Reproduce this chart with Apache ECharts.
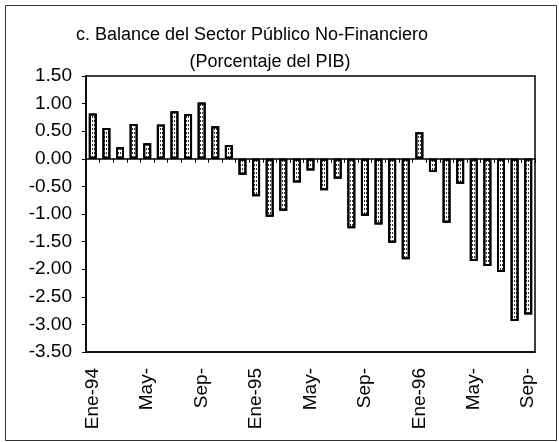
<!DOCTYPE html>
<html>
<head>
<meta charset="utf-8">
<script src="https://cdn.jsdelivr.net/npm/echarts@6/dist/echarts.min.js"></script>
<style>
html, body { margin: 0; padding: 0; background: #fff; }
#chart { width: 559px; height: 442px; }
</style>
</head>
<body>
<div id="chart"></div>
<script>
var months = ['Ene-94','Feb-94','Mar-94','Abr-94','May-94','Jun-94','Jul-94','Ago-94','Sep-94','Oct-94','Nov-94','Dic-94',
              'Ene-95','Feb-95','Mar-95','Abr-95','May-95','Jun-95','Jul-95','Ago-95','Sep-95','Oct-95','Nov-95','Dic-95',
              'Ene-96','Feb-96','Mar-96','Abr-96','May-96','Jun-96','Jul-96','Ago-96','Sep-96'];
var balance = [0.82, 0.56, 0.21, 0.63, 0.28, 0.62, 0.86, 0.81, 1.02, 0.59, 0.25, -0.29,
               -0.68, -1.05, -0.94, -0.43, -0.21, -0.57, -0.36, -1.26, -1.03, -1.19, -1.52, -1.82,
               0.48, -0.24, -1.16, -0.45, -1.85, -1.94, -2.05, -2.94, -2.82];
var titleText = 'c. Balance del Sector Público No-Financiero';
var subText = '(Porcentaje del PIB)';

var chartDom = document.getElementById('chart');
var myChart = echarts.init(chartDom);
var font = '"Liberation Sans", Arial, sans-serif';

function monthLabel(v) {
    // Ene shows the year, other months only "Mmm-"
    if (v.indexOf('Ene') === 0) return v;
    return v.split('-')[0] + '-';
}

var option = {
    animation: false,
    backgroundColor: '#fff',
    aria: { enabled: true, decal: { show: true } },
    title: [
        {
            text: titleText, left: 247, top: 21, textAlign: 'center',
            textStyle: { fontFamily: font, fontSize: 18, fontWeight: 'normal', color: '#000' }
        },
        {
            text: subText, left: 265, top: 48, textAlign: 'center',
            textStyle: { fontFamily: font, fontSize: 18, fontWeight: 'normal', color: '#000' }
        }
    ],
    graphic: [
        {
            type: 'rect', left: 3, top: 3,
            shape: { width: 551, height: 435 },
            style: { fill: 'none', stroke: '#333', lineWidth: 1 }
        }
    ],
    grid: {
        left: 86, right: 24, top: 76, bottom: 90,
        show: true, borderColor: '#000', borderWidth: 1.5, backgroundColor: 'transparent'
    },
    xAxis: [
        {
            type: 'category',
            data: months,
            axisLine: { onZero: true, lineStyle: { color: '#000', width: 1.5 } },
            axisTick: { show: true, interval: 0, length: 4, lineStyle: { color: '#000' } },
            axisLabel: { show: false },
            splitLine: { show: false }
        },
        {
            type: 'category',
            data: months,
            position: 'bottom',
            axisLine: { onZero: false, lineStyle: { color: '#000', width: 1.5 } },
            axisTick: { show: false },
            axisLabel: {
                rotate: 90, interval: 3, margin: 16,
                fontFamily: font, fontSize: 19, color: '#000',
                formatter: monthLabel
            },
            splitLine: { show: false }
        }
    ],
    yAxis: {
        type: 'value',
        min: -3.5,
        max: 1.5,
        interval: 0.5,
        axisLine: { show: true, lineStyle: { color: '#000', width: 1.5 } },
        axisTick: { show: true, length: 4, lineStyle: { color: '#000' } },
        axisLabel: {
            margin: 14, fontFamily: font, fontSize: 19, color: '#000',
            formatter: function (v) { return v.toFixed(2); }
        },
        splitLine: { show: false }
    },
    series: [
        {
            type: 'bar',
            xAxisIndex: 0,
            data: balance,
            barWidth: 8,
            itemStyle: {
                color: '#fff',
                borderColor: '#000',
                borderWidth: 2,
                decal: {
                    symbol: 'rect',
                    symbolSize: 1,
                    color: 'rgba(0,0,0,0.8)',
                    dashArrayX: [1, 1],
                    dashArrayY: [2, 2],
                    rotation: 0
                }
            }
        }
    ]
};

option && myChart.setOption(option);
</script>
</body>
</html>
